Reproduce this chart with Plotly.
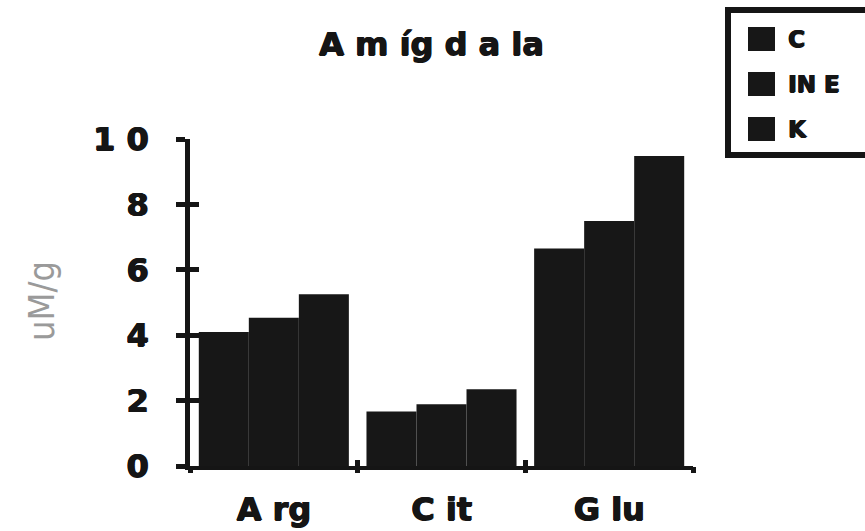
import plotly.graph_objects as go

# Amino-acid levels in the amygdala (uM/g) for three groups
categories = ["A rg", "C it", "G lu"]
series_names = ["C", "IN E", "K"]
values_c = [4.10, 1.67, 6.65]
values_ine = [4.53, 1.89, 7.49]
values_k = [5.25, 2.35, 9.48]
y_ticks = [0, 2, 4, 6, 8, 10]
y_tick_text = ["0", "2", "4", "6", "8", "1 0"]

W, H = 865, 531
L, R, T, B = 190, 172, 139, 65
PW, PH = W - L - R, H - T - B

BAR = "#171717"
INK = "#151515"
FONT = "DejaVu Sans"
# a thin same-colour shadow makes the bold face look heavier
HEAVY = "0.9px 0 0 #151515, -0.4px 0 0 #151515, 0 0.5px 0 #151515"


def px_x(px):
    return (px - L) / PW


def px_y(py):
    return (H - B - py) / PH


fig = go.Figure()
for name, vals in zip(series_names, [values_c, values_ine, values_k]):
    fig.add_trace(go.Bar(
        x=categories, y=vals, name=name,
        marker=dict(color=BAR, line=dict(width=0)),
        showlegend=False,
    ))

axis_font = dict(family=FONT, size=32, color=INK, weight="bold", shadow=HEAVY)

fig.update_layout(
    width=W, height=H,
    margin=dict(l=L, r=R, t=T, b=B, autoexpand=False),
    paper_bgcolor="white", plot_bgcolor="white",
    barmode="group", bargap=0.105, bargroupgap=0,
    xaxis=dict(
        type="category", showline=True, linecolor=INK, linewidth=4,
        ticks="", showgrid=False, zeroline=False,
        tickfont=axis_font, ticklabelstandoff=12,
    ),
    yaxis=dict(
        range=[0, 10], tickvals=y_ticks, ticktext=y_tick_text,
        showline=True, linecolor=INK, linewidth=5,
        ticks="outside", ticklen=9, tickwidth=5, tickcolor=INK,
        showgrid=False, zeroline=False,
        tickfont=axis_font, ticklabelstandoff=21,
    ),
    # overlay axes draw the inner half of the crossing tick marks
    yaxis2=dict(
        overlaying="y", anchor="x", side="left", range=[0, 10],
        tickvals=y_ticks, ticks="inside", ticklen=9, tickwidth=5,
        tickcolor=INK, showticklabels=False, showline=False,
        showgrid=False, zeroline=False,
    ),
    xaxis2=dict(
        overlaying="x", anchor="y", side="bottom", range=[-0.5, 2.5],
        tickvals=[-0.5, 0.5, 1.5, 2.5], ticks="outside", ticklen=6,
        tickwidth=5, tickcolor=INK, showticklabels=False,
        showline=False, showgrid=False, zeroline=False,
    ),
    xaxis3=dict(
        overlaying="x", anchor="y", side="bottom", range=[-0.5, 2.5],
        tickvals=[-0.5, 0.5, 1.5, 2.5], ticks="inside", ticklen=6,
        tickwidth=5, tickcolor=INK, showticklabels=False,
        showline=False, showgrid=False, zeroline=False,
    ),
)

# invisible traces that activate the overlay tick axes
fig.add_trace(go.Scatter(x=[0], y=[0], xaxis="x2", yaxis="y2", mode="markers",
                         marker=dict(opacity=0), showlegend=False, hoverinfo="skip"))
fig.add_trace(go.Scatter(x=[0], y=[0], xaxis="x3", yaxis="y", mode="markers",
                         marker=dict(opacity=0), showlegend=False, hoverinfo="skip"))

# title
fig.add_annotation(
    text="A m íg d a la", xref="paper", yref="paper",
    x=px_x(431), y=px_y(44), xanchor="center", yanchor="middle",
    showarrow=False,
    font=dict(family=FONT, size=32, color=INK, weight="bold", shadow=HEAVY),
)

# y-axis title
fig.add_annotation(
    text="uM/g", xref="paper", yref="paper", textangle=-90,
    x=px_x(41), y=px_y(301), xanchor="center", yanchor="middle",
    showarrow=False,
    font=dict(family="DejaVu Sans Condensed, Liberation Sans Narrow, Liberation Sans",
              size=36, color="#9a9a9a"),
)

# legend box
shapes = [dict(type="rect", xref="paper", yref="paper",
               x0=px_x(728), x1=px_x(900), y0=px_y(155), y1=px_y(10),
               line=dict(color=INK, width=6), fillcolor="white")]
row_centers = [39, 84, 129]
for name, cy in zip(series_names, row_centers):
    shapes.append(dict(type="rect", xref="paper", yref="paper",
                       x0=px_x(748), x1=px_x(775), y0=px_y(cy + 12), y1=px_y(cy - 12),
                       line=dict(width=0), fillcolor=BAR))
    fig.add_annotation(
        text=name, xref="paper", yref="paper",
        x=px_x(786), y=px_y(cy), xanchor="left", yanchor="middle",
        showarrow=False,
        font=dict(family=FONT, size=23, color=INK, weight="bold", shadow=HEAVY),
    )
fig.update_layout(shapes=shapes)

fig.write_html("out.html")
